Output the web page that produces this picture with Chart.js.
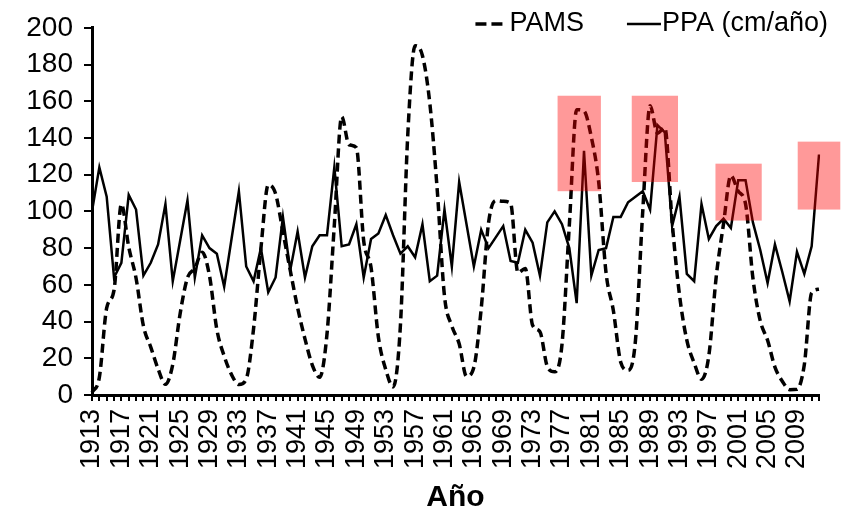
<!DOCTYPE html>
<html>
<head>
<meta charset="utf-8">
<script src="https://cdn.jsdelivr.net/npm/chart.js@4/dist/chart.umd.min.js"></script>
<style>
    html, body { margin: 0; padding: 0; background: #fff; }
    #wrap { width: 841px; height: 510px; position: relative; }
</style>
</head>
<body>
<div id="wrap"><canvas id="chart"></canvas></div>
<script>
// Años (eje X)
const years = [
    1913, 1914, 1915, 1916, 1917, 1918, 1919, 1920, 1921, 1922,
    1923, 1924, 1925, 1926, 1927, 1928, 1929, 1930, 1931, 1932,
    1933, 1934, 1935, 1936, 1937, 1938, 1939, 1940, 1941, 1942,
    1943, 1944, 1945, 1946, 1947, 1948, 1949, 1950, 1951, 1952,
    1953, 1954, 1955, 1956, 1957, 1958, 1959, 1960, 1961, 1962,
    1963, 1964, 1965, 1966, 1967, 1968, 1969, 1970, 1971, 1972,
    1973, 1974, 1975, 1976, 1977, 1978, 1979, 1980, 1981, 1982,
    1983, 1984, 1985, 1986, 1987, 1988, 1989, 1990, 1991, 1992,
    1993, 1994, 1995, 1996, 1997, 1998, 1999, 2000, 2001, 2002,
    2003, 2004, 2005, 2006, 2007, 2008, 2009, 2010, 2011, 2012
];

// PAMS (dashed)
const pams = [
    1.4, 9.6, 47.4, 57.1, 103.9, 80.6, 63.6, 37.6, 26.1, 14.2,
    5.8, 16.7, 44.3, 63.9, 69.0, 77.8, 64.9, 35.7, 21.2, 11.1,
    5.7, 8.7, 36.1, 79.7, 114.4, 109.6, 88.8, 67.8, 47.5, 30.6,
    16.3, 9.6, 33.2, 92.6, 151.6, 136.3, 134.7, 83.9, 69.4, 31.5,
    13.9, 4.4, 38.0, 141.7, 190.2, 184.8, 159.0, 112.3, 53.9, 37.6,
    27.9, 10.2, 15.1, 47.0, 93.8, 105.9, 105.5, 104.5, 66.6, 68.9,
    38.0, 34.5, 15.5, 12.6, 27.5, 92.5, 155.4, 154.6, 140.4, 115.9,
    66.6, 45.9, 17.9, 13.4, 29.4, 100.2, 157.6, 142.6, 145.7, 94.3,
    54.6, 29.9, 17.5, 8.6, 21.5, 64.3, 93.3, 119.6, 111.0, 104.0,
    63.7, 40.4, 29.8, 15.2, 7.5, 2.9, 3.1, 16.5, 55.7, 57.6
];

// PPA (cm/año) (solid)
const ppa = [
    100, 124, 108, 64, 72, 109, 101, 65, 72, 82,
    104, 62, 84, 106, 64, 87, 80, 77, 59, 85,
    111, 70, 62, 80, 56, 64, 97, 68, 89, 64,
    81, 87, 87, 124, 81, 82, 93, 64, 85, 88,
    98, 87, 77, 81, 75, 93, 62, 65, 101, 70,
    116, 93, 70, 90, 80, 86, 92, 73, 72, 90,
    83, 65, 94, 100, 93, 80, 50, 133, 65, 79,
    80, 97, 97, 105, 108, 111, 101, 147, 143, 92,
    108, 66, 62, 104, 85, 92, 96, 91, 117, 117,
    94, 79, 61, 82, 67, 51, 78, 66, 81, 131
];

const yTicks = [0, 20, 40, 60, 80, 100, 120, 140, 160, 180, 200];

// highlighted zones: [from year, to year, low value, high value]
const highlights = [
    [1976.4, 1982.3, 111, 163],
    [1986.5, 1992.8, 116, 163],
    [1997.9, 2004.2, 95, 126],
    [2009.1, 2014.9, 101, 138]
];

const FONT = '"Liberation Sans", Arial, sans-serif';

const highlightPlugin = {
    id: 'highlights',
    afterDatasetsDraw(chart) {
        const xs = chart.scales.x, ys = chart.scales.y;
        const ctx = chart.ctx;
        ctx.save();
        ctx.fillStyle = 'rgba(255, 0, 0, 0.4)';
        highlights.forEach(function (h) {
            const x1 = xs.getPixelForValue(h[0] - years[0]);
            const x2 = xs.getPixelForValue(h[1] - years[0]);
            const y1 = ys.getPixelForValue(h[3]);
            const y2 = ys.getPixelForValue(h[2]);
            ctx.fillRect(x1, y1, x2 - x1, y2 - y1);
        });
        ctx.restore();
    }
};

// legend drawn by hand so it can sit above the plot area
const legendPlugin = {
    id: 'lineLegend',
    afterDraw(chart) {
        const ctx = chart.ctx;
        const area = chart.chartArea;
        const cy = 24;
        ctx.save();
        ctx.font = '27px ' + FONT;
        ctx.fillStyle = '#000';
        ctx.textBaseline = 'middle';
        ctx.strokeStyle = '#000';

        let right = area.right + 9;
        const items = chart.data.datasets.slice().reverse();
        items.forEach(function (ds) {
            const w = ctx.measureText(ds.label).width;
            const tx = right - w;
            ctx.fillText(ds.label, tx, cy);
            ctx.lineWidth = ds.borderWidth;
            ctx.setLineDash(ds.borderDash ? [11, 5] : []);
            ctx.beginPath();
            ctx.moveTo(tx - (ds.borderDash ? 34 : 35), cy);
            ctx.lineTo(tx - (ds.borderDash ? 3 : 1), cy);
            ctx.stroke();
            right = tx - 78;
        });
        ctx.restore();
    }
};

const ctx = document.getElementById('chart').getContext('2d');
new Chart(ctx, {
    type: 'line',
    data: {
        labels: years,
        datasets: [{
            label: 'PAMS',
            data: pams,
            borderColor: '#000',
            borderWidth: 3.5,
            borderDash: [9, 5],
            pointRadius: 0,
            cubicInterpolationMode: 'monotone',
            fill: false
        }, {
            label: 'PPA (cm/año)',
            data: ppa,
            borderColor: '#000',
            borderWidth: 2.5,
            pointRadius: 0,
            tension: 0,
            fill: false
        }]
    },
    options: {
        responsive: true,
        maintainAspectRatio: false,
        animation: false,
        devicePixelRatio: 1,
        layout: { padding: { top: 26, right: 22, bottom: 0, left: 0 } },
        plugins: {
            legend: { display: false },
            tooltip: { enabled: false }
        },
        scales: {
            x: {
                type: 'category',
                offset: false,
                afterFit: function (s) {
                    s.height = 115;
                    s.paddingLeft = 0;
                    s.paddingRight = 0;
                },
                border: { color: '#000', width: 3 },
                grid: { drawOnChartArea: false, color: '#000', lineWidth: 2, tickLength: 6 },
                ticks: {
                    autoSkip: false,
                    minRotation: 90,
                    maxRotation: 90,
                    padding: 8,
                    color: '#000',
                    font: { family: FONT, size: 27 },
                    callback: function (val, idx) {
                        return idx % 4 === 0 ? String(years[idx]) : '';
                    }
                },
                title: {
                    display: true,
                    text: 'Año',
                    color: '#000',
                    font: { family: FONT, size: 30, weight: 'bold', lineHeight: 1 },
                    padding: { top: 0, bottom: -3 }
                }
            },
            y: {
                min: yTicks[0],
                max: yTicks[yTicks.length - 1],
                afterFit: function (s) { s.width = 92; },
                afterBuildTicks: function (s) { s.ticks = yTicks.map(function (v) { return { value: v }; }); },
                border: { color: '#000', width: 3 },
                grid: { drawOnChartArea: false, color: '#000', lineWidth: 2, tickLength: 8 },
                ticks: {
                    padding: 11,
                    color: '#000',
                    font: { family: FONT, size: 28 }
                }
            }
        }
    },
    plugins: [highlightPlugin, legendPlugin]
});
</script>
</body>
</html>
